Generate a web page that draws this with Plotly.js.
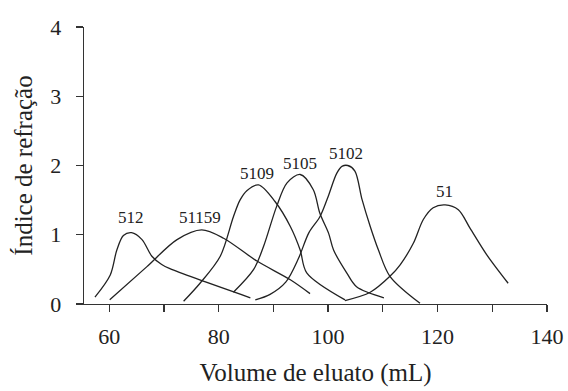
<!DOCTYPE html>
<html>
<head>
<meta charset="utf-8">
<script src="https://cdn.plot.ly/plotly-3.0.1.min.js"></script>
<style>html,body{margin:0;padding:0;background:#fff;}#chart{width:568px;height:391px;}</style>
</head>
<body>
<div id="chart"></div>
<script>
// Series
const names = ["512", "51159", "5109", "5105", "5102", "51"];

const x512 = [57.4, 60.2, 61.4, 62.6, 64.1, 66.0, 67.8, 69.6, 71.1, 85.8];
const y512 = [0.10, 0.42, 0.78, 0.99, 1.03, 0.93, 0.69, 0.57, 0.51, 0.09];

const x51159 = [60.1, 66.9, 72.4, 76.9, 80.9, 87.0, 93.1, 96.7];
const y51159 = [0.06, 0.54, 0.93, 1.07, 0.95, 0.62, 0.35, 0.15];

const x5109 = [73.6, 76.6, 80.3, 82.7, 83.9, 85.2, 87.3, 90.3, 93.1, 94.9, 96.1, 103.1];
const y5109 = [0.04, 0.30, 0.69, 1.26, 1.50, 1.64, 1.72, 1.48, 1.12, 0.78, 0.45, 0.06];

const x5105 = [82.7, 86.4, 88.2, 90.6, 92.5, 94.9, 97.3, 98.5, 100.1, 101.0, 103.4, 105.2, 110.2];
const y5105 = [0.17, 0.50, 0.83, 1.41, 1.75, 1.87, 1.65, 1.31, 1.02, 0.78, 0.45, 0.25, 0.09];

const x5102 = [86.7, 89.4, 92.3, 94.6, 96.5, 98.5, 100.0, 101.6, 102.6, 103.6, 104.9, 106.2, 107.7, 109.2, 111.3, 116.8];
const y5102 = [0.06, 0.14, 0.32, 0.66, 1.03, 1.26, 1.55, 1.89, 1.99, 2.00, 1.92, 1.51, 1.12, 0.78, 0.40, 0.01];

const x51 = [103.1, 107.7, 111.3, 113.2, 115.6, 117.4, 119.2, 121.4, 123.8, 125.9, 129.0, 132.9];
const y51 = [0.05, 0.17, 0.40, 0.57, 0.88, 1.22, 1.39, 1.43, 1.36, 1.10, 0.71, 0.30];

// Label anchor positions (data coordinates)
const labelX = [64.0, 76.6, 87.1, 94.9, 103.3, 121.2];
const labelY = [1.25, 1.25, 1.88, 2.03, 2.17, 1.62];

const xTickVals = [60, 70, 80, 90, 100, 110, 120, 130, 140];
const xTickText = ["60", "", "80", "", "100", "", "120", "", "140"];
const yTickVals = [0, 1, 2, 3, 4];
const yTickText = ["0", "1", "2", "3", "4"];

const xs = [x512, x51159, x5109, x5105, x5102, x51];
const ys = [y512, y51159, y5109, y5105, y5102, y51];

const font = "Liberation Serif, Times New Roman, serif";
const lineColor = "#222";

const traces = xs.map((xv, i) => ({
  x: xv, y: ys[i], name: names[i], type: "scatter", mode: "lines",
  line: {color: lineColor, width: 1.3, shape: "spline", smoothing: 0.9},
  hoverinfo: "skip"
}));

const annotations = names.map((n, i) => ({
  x: labelX[i], y: labelY[i], xref: "x", yref: "y", text: n,
  showarrow: false, font: {family: font, size: 17, color: "#222"}
}));

const layout = {
  width: 568, height: 391,
  margin: {l: 84, r: 21, t: 27, b: 87},
  paper_bgcolor: "#fff", plot_bgcolor: "#fff",
  showlegend: false,
  font: {family: font, color: "#222"},
  xaxis: {
    range: [55.4, 140], showgrid: false, zeroline: false,
    showline: true, linecolor: "#333", linewidth: 1.3,
    ticks: "outside", ticklen: 7, tickwidth: 1.2, tickcolor: "#333",
    tickvals: xTickVals, ticktext: xTickText,
    tickfont: {family: font, size: 22, color: "#222"},
    ticklabelstandoff: 5,
    title: {text: "Volume de eluato (mL)", font: {family: font, size: 25, color: "#222"}, standoff: 15}
  },
  yaxis: {
    range: [0, 4], showgrid: false, zeroline: false,
    showline: true, linecolor: "#333", linewidth: 1.3,
    ticks: "outside", ticklen: 7, tickwidth: 1.2, tickcolor: "#333",
    tickvals: yTickVals, ticktext: yTickText,
    tickfont: {family: font, size: 22, color: "#222"},
    ticklabelstandoff: 10,
    title: {text: "Índice de refração", font: {family: font, size: 25, color: "#222"}, standoff: 10}
  },
  annotations: annotations
};

Plotly.newPlot("chart", traces, layout, {staticPlot: true, displayModeBar: false});
</script>
</body>
</html>
